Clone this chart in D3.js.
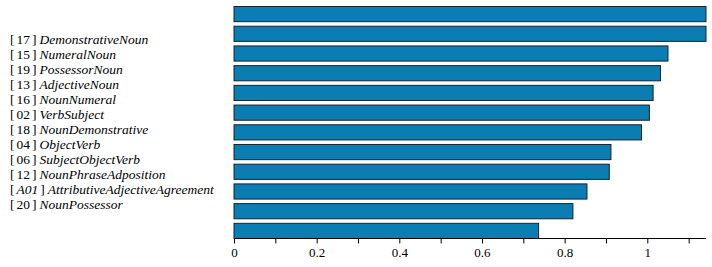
<!DOCTYPE html>
<html>
<head>
<meta charset="utf-8">
<script src="https://cdn.jsdelivr.net/npm/d3@7"></script>
<style>
  body { margin: 0; background: #fff; }
  text { font-family: "Liberation Serif", "DejaVu Serif", serif; }
</style>
</head>
<body>
<div id="chart"></div>
<script>
// feature ids and names, in bar order (top to bottom)
var featureIds = ["17", "15", "19", "13", "16", "02", "18", "04", "06", "12", "A01", "20"];
var featureNames = ["DemonstrativeNoun", "NumeralNoun", "PossessorNoun", "AdjectiveNoun",
    "NounNumeral", "VerbSubject", "NounDemonstrative", "ObjectVerb", "SubjectObjectVerb",
    "NounPhraseAdposition", "AttributiveAdjectiveAgreement", "NounPossessor"];
// bar values
var scores = [1.142, 1.142, 1.050, 1.032, 1.014, 1.005, 0.986, 0.912, 0.908, 0.854, 0.820, 0.737];
var tickValues = [0, 0.1, 0.2, 0.3, 0.4, 0.5, 0.6, 0.7, 0.8, 0.9, 1, 1.1];

var svgWidth = 712, svgHeight = 267;
var margin = { top: 6, right: 6, bottom: 29, left: 234 };

var svg = d3.select("#chart").append("svg")
    .attr("width", svgWidth).attr("height", svgHeight);

var xScale = d3.scaleLinear()
    .domain([0, 1.142])
    .range([margin.left, svgWidth - margin.right]);

var yScale = d3.scaleBand()
    .domain(featureNames)
    .range([margin.top, svgHeight - margin.bottom])
    .paddingInner(0.23)
    .paddingOuter(0);

// labels sit on their own spacing, not lined up with the bars
var labelScale = d3.scalePoint()
    .domain(featureNames)
    .range([39, 204]);

// bars
svg.append("g").selectAll("rect")
    .data(scores)
    .enter().append("rect")
    .attr("x", xScale(0))
    .attr("y", (d, i) => yScale(featureNames[i]) + 0.5)
    .attr("width", d => xScale(d) - xScale(0))
    .attr("height", yScale.bandwidth())
    .attr("fill", "#0a7db3")
    .attr("stroke", "#16232e")
    .attr("stroke-width", 1);

// x axis
var xAxis = d3.axisBottom(xScale)
    .tickValues(tickValues)
    .tickSize(5)
    .tickFormat(d => (Math.round(d * 10) % 2 === 0) ? d3.format("~g")(d) : "");

var axisG = svg.append("g")
    .attr("transform", `translate(0, ${svgHeight - margin.bottom + 0.5})`)
    .call(xAxis);
axisG.select(".domain").attr("d", `M${xScale(0)},0H${xScale.range()[1]}`).attr("stroke", "#000");
axisG.selectAll(".tick line").attr("stroke", "#000");
axisG.selectAll(".tick text")
    .attr("font-family", "'Liberation Serif', serif")
    .attr("font-size", 13)
    .attr("fill", "#000")
    .attr("y", 9);

// labels
var labels = svg.append("g").selectAll("text")
    .data(featureNames)
    .enter().append("text")
    .attr("x", 10)
    .attr("y", d => labelScale(d))
    .attr("dy", "0.35em")
    .attr("font-size", 13.5)
    .attr("fill", "#000");

labels.each(function (d, i) {
    var t = d3.select(this);
    var id = featureIds[i];
    t.append("tspan").text("[");
    t.append("tspan").attr("dx", 2)
        .attr("font-style", id[0] === "A" ? "italic" : "normal")
        .text(id);
    t.append("tspan").attr("dx", 2).text("]");
    t.append("tspan").attr("dx", 3).attr("font-style", "italic").text(d);
});
</script>
</body>
</html>
